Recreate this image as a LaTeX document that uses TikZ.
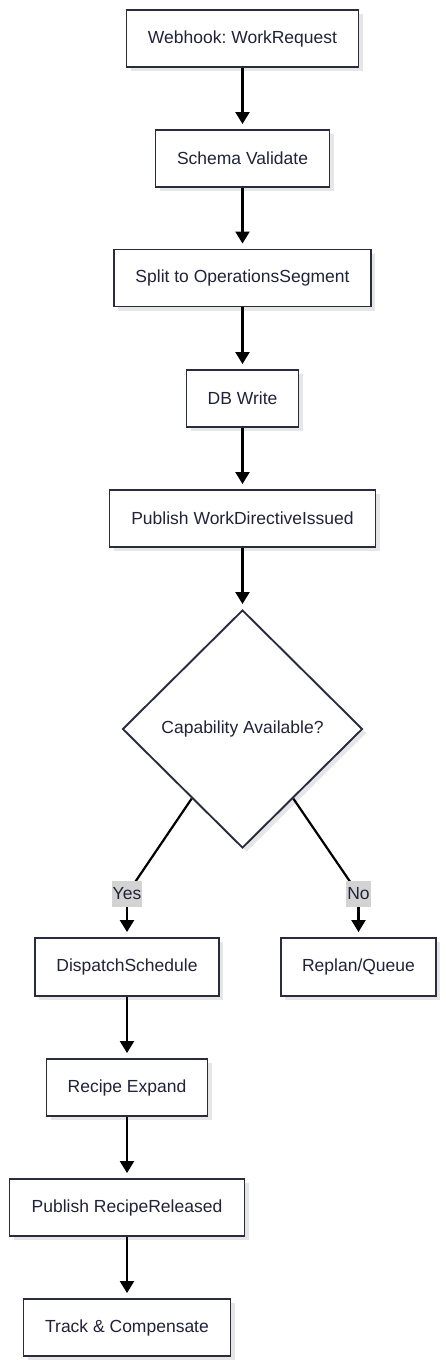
\documentclass[tikz,border=0pt]{standalone}
\usepackage{fontspec}
\setmainfont{Liberation Sans}
\usetikzlibrary{shapes.geometric,arrows.meta,shadows}
\definecolor{edgec}{HTML}{2B2B40}
\definecolor{txtc}{HTML}{22223A}
\definecolor{shadc}{HTML}{E6E6E6}
\definecolor{lblc}{HTML}{D3D3D3}
\newcommand\nodefont{\fontsize{17.5pt}{21pt}\selectfont}
\frenchspacing
\begin{document}
\begin{tikzpicture}[x=1pt,y=-1pt,
  shad/.style={drop shadow={shadow xshift=4pt,shadow yshift=-4pt,fill=shadc,opacity=1}},
  box/.style={draw=edgec,line width=1.9pt,fill=white,minimum height=57pt,inner sep=0pt,
    text=txtc,font=\nodefont,shad},
  dia/.style={diamond,draw=edgec,line width=1.9pt,fill=white,minimum width=240pt,
    minimum height=238pt,inner sep=0pt,text=txtc,font=\nodefont,shad},
  arr/.style={draw=black,line width=2.2pt,-{Triangle[length=12pt,width=14pt]},shorten >=5pt},
  plainline/.style={draw=black,line width=2.2pt},
  lbl/.style={fill=lblc,inner xsep=1pt,inner ysep=0pt,minimum height=26pt,text=txtc,font=\nodefont}]
\useasboundingbox (0,0) rectangle (446,1366);
% top column
\node[box,minimum width=232pt] (wh) at (242.5,38.5) {Webhook: WorkRequest};
\node[box,minimum width=174pt] (sv) at (242.5,158.5) {Schema Validate};
\node[box,minimum width=257pt] (sp) at (242.5,278) {Split to OperationsSegment};
\node[box,minimum width=112pt] (db) at (242.5,398.5) {DB Write};
\node[box,minimum width=266pt] (pw) at (242.5,518.5) {Publish WorkDirectiveIssued};
\node[dia] (cap) at (242.5,729) {Capability Available?};
% branches
\node[box,minimum width=184pt,minimum height=58pt] (ds) at (127,967) {DispatchSchedule};
\node[box,minimum width=155pt,minimum height=58pt] (rq) at (358.5,967) {Replan/Queue};
\node[box,minimum width=161pt] (re) at (127,1087.5) {Recipe Expand};
\node[box,minimum width=235pt] (pr) at (127,1207.5) {Publish RecipeReleased};
\node[box,minimum width=207pt] (tc) at (127,1327.5) {Track \& Compensate};
% connectors
\draw[arr] (wh) -- (sv);
\draw[arr] (sv) -- (sp);
\draw[arr] (sp) -- (db);
\draw[arr] (db) -- (pw);
\draw[arr] (pw) -- (cap);
\path (cap.south) -- (cap.west) coordinate[pos=0.42] (ys);
\path (cap.south) -- (cap.east) coordinate[pos=0.42] (ns);
\coordinate (yl) at (127,894);
\coordinate (nl) at (358.5,894);
\draw[plainline] (ys) -- (yl);
\draw[arr] (yl) -- (ds);
\draw[plainline] (ns) -- (nl);
\draw[arr] (nl) -- (rq);
\node[lbl] (yes) at (yl) {Yes};
\node[lbl] (no) at (nl) {No};
\draw[arr] (ds) -- (re);
\draw[arr] (re) -- (pr);
\draw[arr] (pr) -- (tc);
\end{tikzpicture}
\end{document}
